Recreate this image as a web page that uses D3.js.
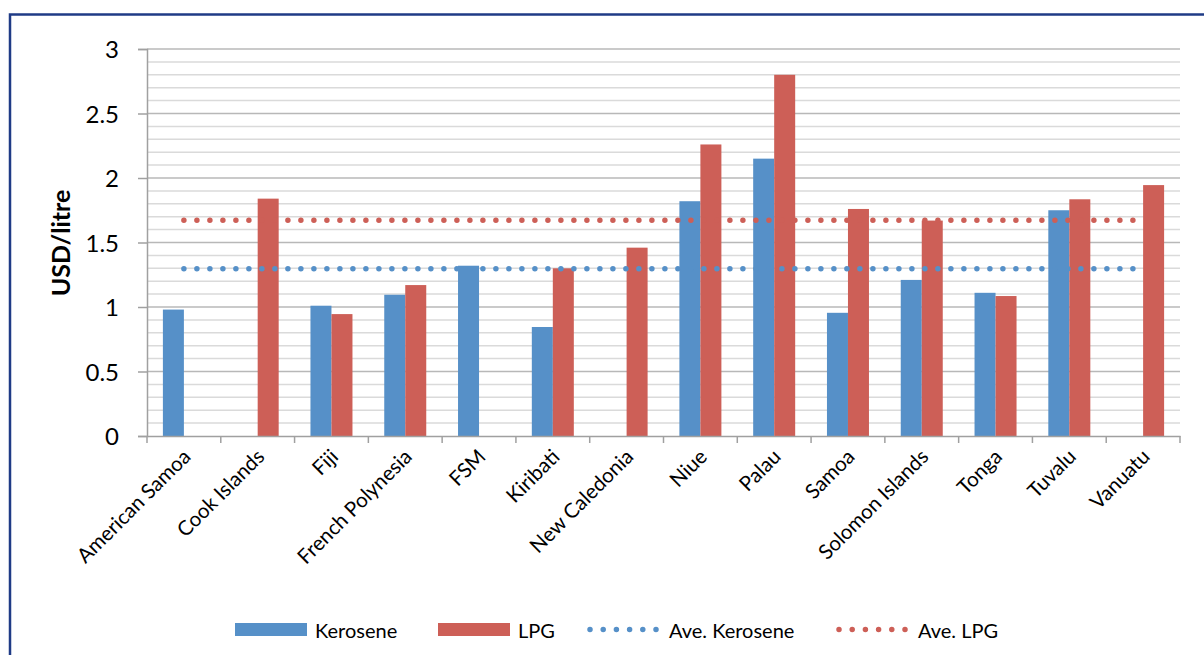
<!DOCTYPE html>
<meta charset="utf-8">
<title>Kerosene and LPG prices</title>
<style>
body { margin: 0; background: #fff; font-family: Lato, "Open Sans", sans-serif; }
svg text { fill: #000; }
</style>
<svg width="1204" height="655"></svg>
<script src="https://d3js.org/d3.v7.min.js"></script>
<script>
const countries = ["American Samoa","Cook Islands","Fiji","French Polynesia","FSM","Kiribati","New Caledonia","Niue","Palau","Samoa","Solomon Islands","Tonga","Tuvalu","Vanuatu"];
const kerosene = [0.98, null, 1.01, 1.095, 1.32, 0.845, null, 1.82, 2.15, 0.955, 1.21, 1.11, 1.75, null];
const lpg = [null, 1.84, 0.945, 1.17, null, 1.30, 1.46, 2.26, 2.80, 1.76, 1.67, 1.085, 1.835, 1.945];
const aveKerosene = 1.297;
const aveLpg = 1.672;
const yTicks = [0, 0.5, 1, 1.5, 2, 2.5, 3];

const blue = "#5690c8", red = "#cd5f57";
const svg = d3.select("svg");

// frame
svg.append("rect").attr("x", 10).attr("y", 14.5).attr("width", 1220).attr("height", 680)
  .attr("fill", "none").attr("stroke", "#1f3b86").attr("stroke-width", 2.5);

const x = d3.scaleBand().domain(countries).range([147, 1180]);
const y = d3.scaleLinear().domain([0, 3]).range([436, 49]);

// minor gridlines
svg.append("g").selectAll("line").data(d3.range(1, 30).map(i => i / 10).filter(v => Math.round(v * 10) % 5 !== 0))
  .enter().append("line")
  .attr("x1", 147).attr("x2", 1180).attr("y1", d => y(d)).attr("y2", d => y(d))
  .attr("stroke", "#dadada").attr("stroke-width", 1.5);
// major gridlines
svg.append("g").selectAll("line").data(yTicks.filter(v => v > 0))
  .enter().append("line")
  .attr("x1", 147).attr("x2", 1180).attr("y1", d => y(d)).attr("y2", d => y(d))
  .attr("stroke", "#b8b8b8").attr("stroke-width", 1.5);

// bars
const bw = 21;
const off = (x.bandwidth() - 2 * bw) / 2;
svg.append("g").selectAll("rect").data(countries.map((c, i) => [c, kerosene[i]]).filter(d => d[1] != null))
  .enter().append("rect")
  .attr("x", d => x(d[0]) + off).attr("width", bw)
  .attr("y", d => y(d[1])).attr("height", d => y(0) - y(d[1]))
  .attr("fill", blue);
svg.append("g").selectAll("rect").data(countries.map((c, i) => [c, lpg[i]]).filter(d => d[1] != null))
  .enter().append("rect")
  .attr("x", d => x(d[0]) + off + bw).attr("width", bw)
  .attr("y", d => y(d[1])).attr("height", d => y(0) - y(d[1]))
  .attr("fill", red);

// average lines
const xc = c => x(c) + x.bandwidth() / 2;
[[aveKerosene, blue], [aveLpg, red]].forEach(([v, col]) => {
  svg.append("line")
    .attr("x1", xc(countries[0])).attr("x2", xc(countries[countries.length - 1]))
    .attr("y1", y(v)).attr("y2", y(v))
    .attr("stroke", col).attr("stroke-width", 5.5)
    .attr("stroke-linecap", "round").attr("stroke-dasharray", "0 13");
});

// y axis
const yAxis = svg.append("g").attr("transform", "translate(147,0)")
  .call(d3.axisLeft(y).tickValues(yTicks).tickSize(9).tickPadding(19).tickFormat(d3.format("")));
yAxis.select(".domain").attr("stroke", "#a0a0a0").attr("stroke-width", 1.5);
yAxis.selectAll(".tick line").attr("stroke", "#a0a0a0").attr("stroke-width", 1.5);
yAxis.selectAll("text").attr("font-size", 24).attr("font-family", "Lato, sans-serif").attr("dy", "0.36em");

// x axis
const xAxis = svg.append("g").attr("transform", "translate(0,436)")
  .call(d3.axisBottom(x).tickSize(0).tickFormat(""));
xAxis.select(".domain").attr("stroke", "#a0a0a0").attr("stroke-width", 1.5);
svg.append("g").selectAll("line").data(d3.range(countries.length + 1))
  .enter().append("line")
  .attr("x1", i => 147 + i * x.step()).attr("x2", i => 147 + i * x.step())
  .attr("y1", 436).attr("y2", 443).attr("stroke", "#a0a0a0").attr("stroke-width", 1.5);
svg.append("g").selectAll("text").data(countries)
  .enter().append("text")
  .attr("transform", d => `translate(${xc(d) + 8},${458}) rotate(-45)`)
  .attr("text-anchor", "end").attr("font-size", 20.5)
  .text(d => d);

// y label
svg.append("text").attr("transform", "translate(70,243) rotate(-90)")
  .attr("text-anchor", "middle").attr("font-size", 25).attr("font-weight", "bold")
  .text("USD/litre");

// legend
const leg = svg.append("g").attr("font-size", 20);
const legItems = [
  { label: "Kerosene", col: blue, type: "bar", x: 235 },
  { label: "LPG", col: red, type: "bar", x: 438 },
  { label: "Ave. Kerosene", col: blue, type: "dot", x: 588 },
  { label: "Ave. LPG", col: red, type: "dot", x: 837 }
];
legItems.forEach(d => {
  if (d.type === "bar") {
    leg.append("rect").attr("x", d.x).attr("y", 623).attr("width", 72).attr("height", 13).attr("fill", d.col);
  } else {
    leg.append("line").attr("x1", d.x + 2).attr("x2", d.x + 68).attr("y1", 629.5).attr("y2", 629.5)
      .attr("stroke", d.col).attr("stroke-width", 5.5).attr("stroke-linecap", "round")
      .attr("stroke-dasharray", "0 13.2");
  }
  leg.append("text").attr("x", d.x + (d.type === "bar" ? 80 : 81)).attr("y", 638).text(d.label);
});
</script>
